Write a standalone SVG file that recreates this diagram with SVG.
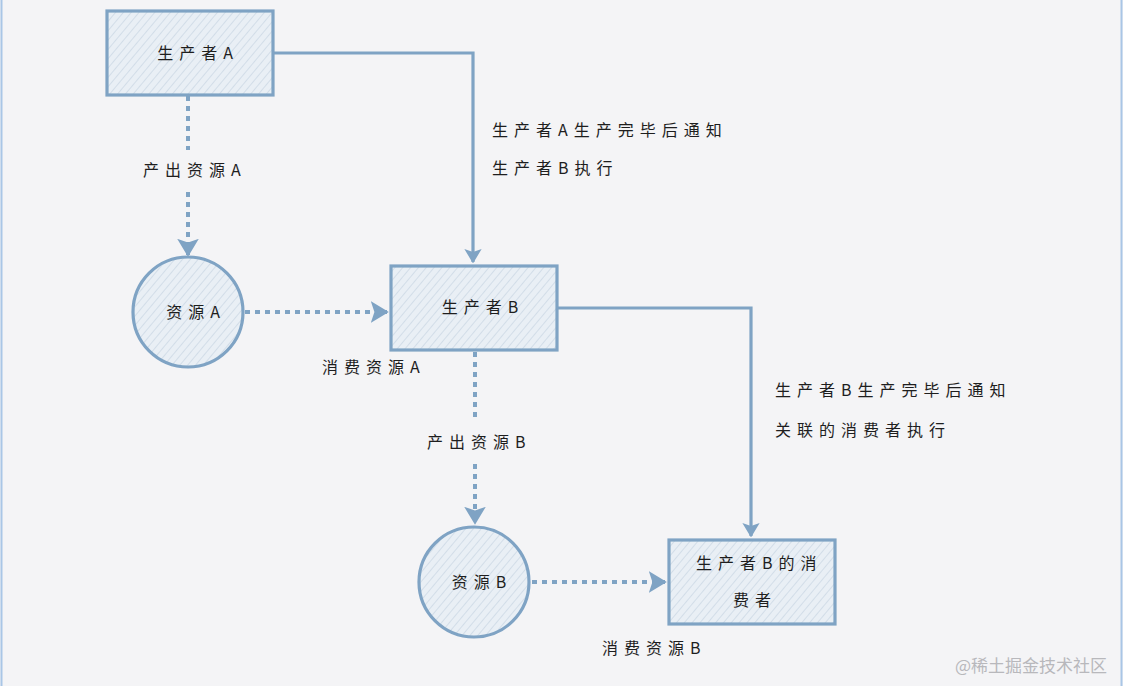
<svg xmlns="http://www.w3.org/2000/svg" width="1123" height="686" viewBox="0 0 1123 686">
<defs>
<pattern id="hatch" patternUnits="userSpaceOnUse" width="6" height="6" patternTransform="rotate(40)">
<rect width="6" height="6" fill="#e9eff5"/>
<line x1="0" y1="0" x2="0" y2="6" stroke="#c6d4e1" stroke-width="1.3"/>
</pattern>
<marker id="arr" viewBox="0 0 10 12" refX="9" refY="6" markerWidth="4.5" markerHeight="5.5" orient="auto" markerUnits="strokeWidth">
<path d="M0,0 L10,6 L0,12 L2,6 z" fill="#7fa3c4"/>
</marker>
</defs>
<style>
.node{fill:url(#hatch);stroke:#7fa3c4;stroke-width:3.2}
.solid{fill:none;stroke:#7fa3c4;stroke-width:3.2}
.dot{fill:none;stroke:#7fa3c4;stroke-width:4;stroke-dasharray:5 5}
text{font-family:"Noto Sans CJK SC","Noto Sans",sans-serif;font-size:16px;fill:#1e1e1e;letter-spacing:6px}
.c{text-anchor:middle}
.wm{font-size:17px;fill:#b8b8bc;letter-spacing:0}
</style>
<rect width="1123" height="686" fill="#f4f4f6"/>
<line x1="1.5" y1="0" x2="1.5" y2="686" stroke="#a9c6e6" stroke-width="2"/>
<line x1="1121.5" y1="0" x2="1121.5" y2="686" stroke="#a9c6e6" stroke-width="2"/>
<g id="connectors">
<polyline class="solid" points="273,53 473,53 473,262" marker-end="url(#arr)"/>
<polyline class="solid" points="557,308 751,308 751,536" marker-end="url(#arr)"/>
<line class="dot" x1="188" y1="96" x2="188" y2="150"/>
<line class="dot" x1="188" y1="192" x2="188" y2="255" marker-end="url(#arr)"/>
<line class="dot" x1="245" y1="312" x2="387" y2="312" marker-end="url(#arr)"/>
<line class="dot" x1="475" y1="352" x2="475" y2="420"/>
<line class="dot" x1="475" y1="464" x2="475" y2="523" marker-end="url(#arr)"/>
<line class="dot" x1="532" y1="582" x2="665" y2="582" marker-end="url(#arr)"/>
<text x="143" y="176">产出资源A</text>
<text x="492" y="136">生产者A生产完毕后通知</text>
<text x="492" y="174">生产者B执行</text>
<text x="322" y="373">消费资源A</text>
<text x="427" y="448">产出资源B</text>
<text x="775" y="396">生产者B生产完毕后通知</text>
<text x="775" y="436">关联的消费者执行</text>
<text x="602" y="654">消费资源B</text>
</g>
<g id="producerA">
<rect class="node" x="107" y="11" width="166" height="84"/>
<text class="c" x="198" y="59">生产者A</text>
</g>
<g id="resourceA">
<circle class="node" cx="188" cy="312" r="55"/>
<text class="c" x="196" y="318">资源A</text>
</g>
<g id="producerB">
<rect class="node" x="391" y="266" width="166" height="84"/>
<text class="c" x="483" y="313">生产者B</text>
</g>
<g id="resourceB">
<circle class="node" cx="474" cy="582" r="55"/>
<text class="c" x="482" y="588">资源B</text>
</g>
<g id="consumerB">
<rect class="node" x="669" y="540" width="166" height="84"/>
<text x="696" y="569">生产者B的消</text>
<text x="733" y="606">费者</text>
</g>
<text class="wm" x="955" y="672">@稀土掘金技术社区</text>
</svg>
